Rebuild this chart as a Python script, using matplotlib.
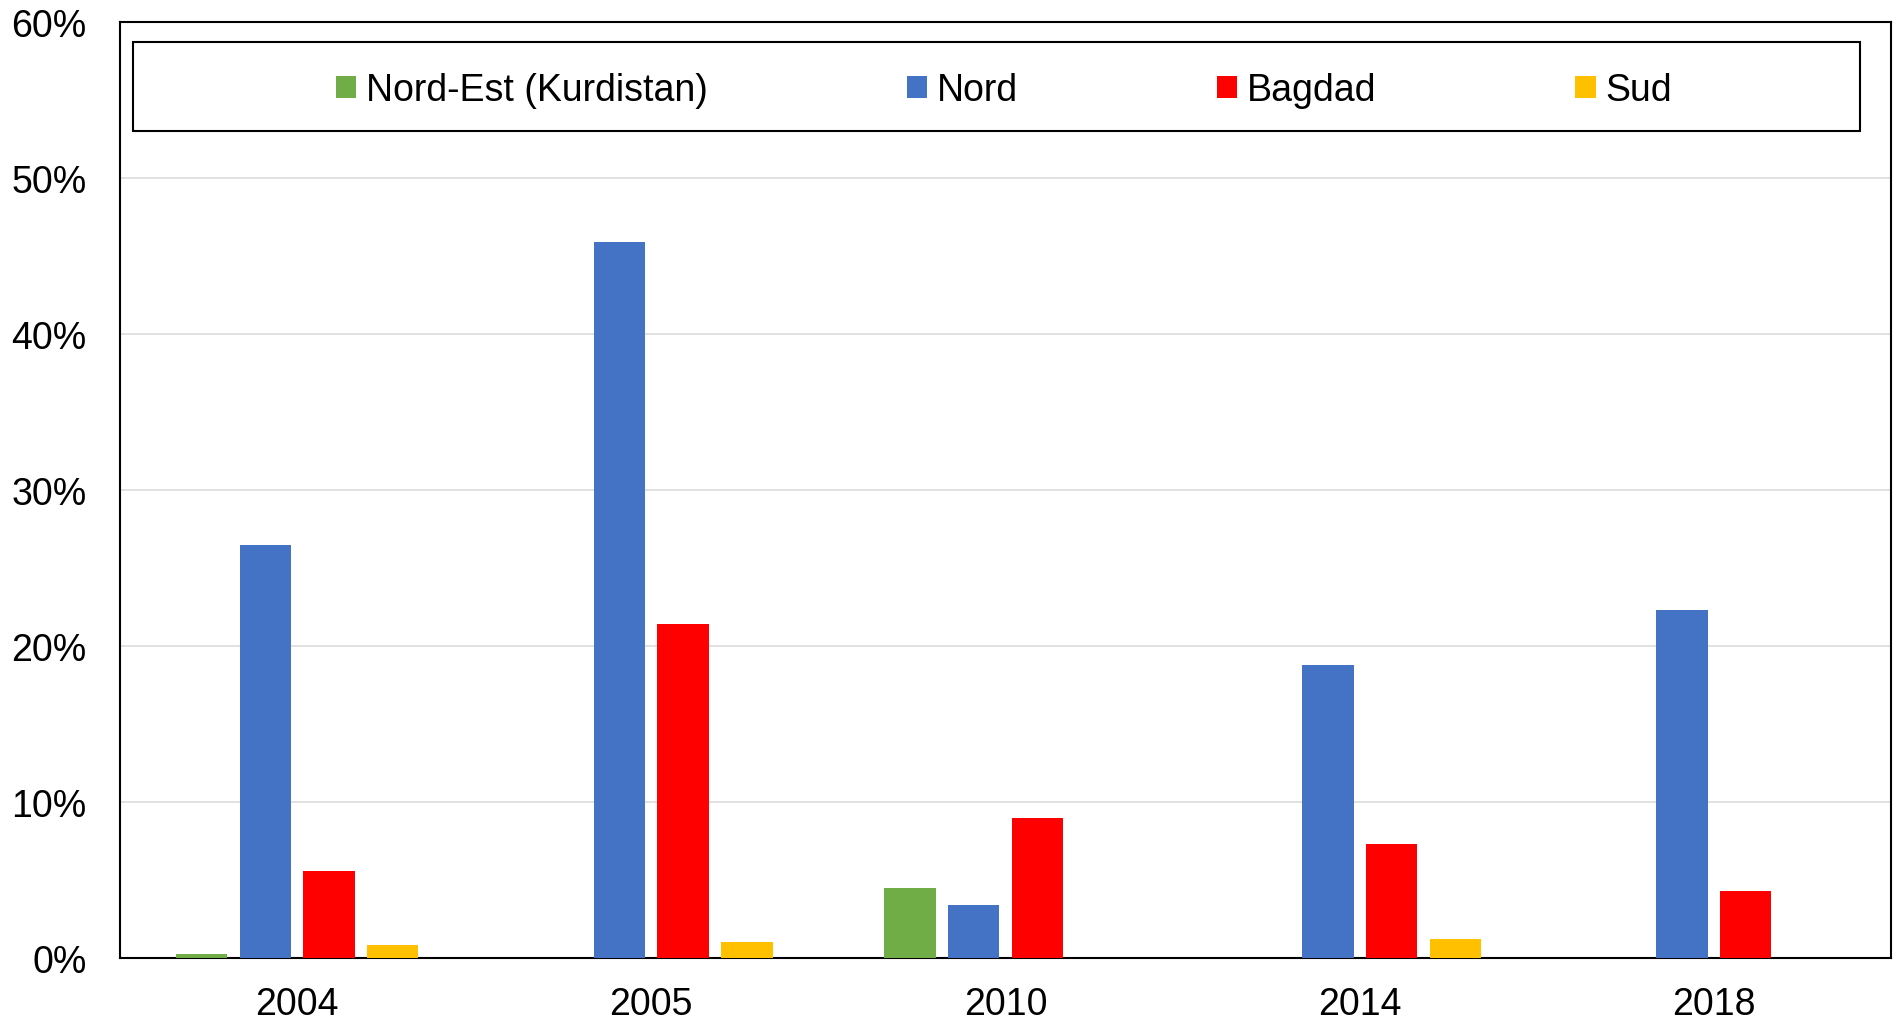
import matplotlib
matplotlib.use("Agg")
import matplotlib.pyplot as plt
import matplotlib.patches as mpatches
import numpy as np

years = ["2004", "2005", "2010", "2014", "2018"]
series_names = ["Nord-Est (Kurdistan)", "Nord", "Bagdad", "Sud"]
nord_est = [0.25, 0.0, 4.5, 0.0, 0.0]
nord = [26.5, 45.9, 3.4, 18.8, 22.3]
bagdad = [5.6, 21.4, 9.0, 7.3, 4.3]
sud = [0.85, 1.0, 0.0, 1.2, 0.0]
colors = ["#70AD47", "#4472C4", "#FF0000", "#FFC000"]
yticks = [0, 10, 20, 30, 40, 50, 60]

plt.rcParams['font.family'] = ['Liberation Sans', 'DejaVu Sans']
FS = 27

W, H = 1894, 1020
fig = plt.figure(figsize=(W / 100, H / 100), dpi=100)
ax = fig.add_axes([120 / W, 1 - 959 / H, (1891 - 120) / W, (959 - 23) / H])

x = np.arange(len(years))
offsets = [-0.27, -0.09, 0.09, 0.27]
width = 0.145
handles = []
for vals, name, col, off in zip([nord_est, nord, bagdad, sud], series_names, colors, offsets):
    b = ax.bar(x + off, vals, width=width, color=col, label=name, zorder=3, linewidth=0)
    handles.append(b)

ax.set_xlim(-0.5, len(years) - 0.5)
ax.set_ylim(0, 60)
ax.set_yticks(yticks)
ax.set_yticklabels([f"{t}%" for t in yticks], fontsize=FS)
ax.set_xticks(x)
ax.set_xticklabels(years, fontsize=FS)
ax.tick_params(axis='both', length=0)
ax.tick_params(axis='y', pad=24)
ax.tick_params(axis='x', pad=20)
ax.yaxis.grid(True, color="#D9D9D9", linewidth=1.1, zorder=0)
ax.set_axisbelow(True)
for s in ax.spines.values():
    s.set_color("black")
    s.set_linewidth(1.5)

# legend box
rect = mpatches.Rectangle((133 / W, 1 - 132 / H), (1860 - 133) / W, (132 - 43) / H,
                          transform=fig.transFigure, facecolor="white", edgecolor="black",
                          linewidth=1.5, zorder=4, clip_on=False)
ax.add_patch(rect)

leg = ax.legend(handles=handles, loc="center", bbox_to_anchor=(1004 / W, 1 - 91 / H),
                bbox_transform=fig.transFigure, ncol=4, frameon=False, fontsize=FS,
                handlelength=0.54, handleheight=0.54, handletextpad=0.27,
                columnspacing=5.3, borderpad=0)
leg.set_zorder(5)

fig.savefig("out.png", dpi=100)
